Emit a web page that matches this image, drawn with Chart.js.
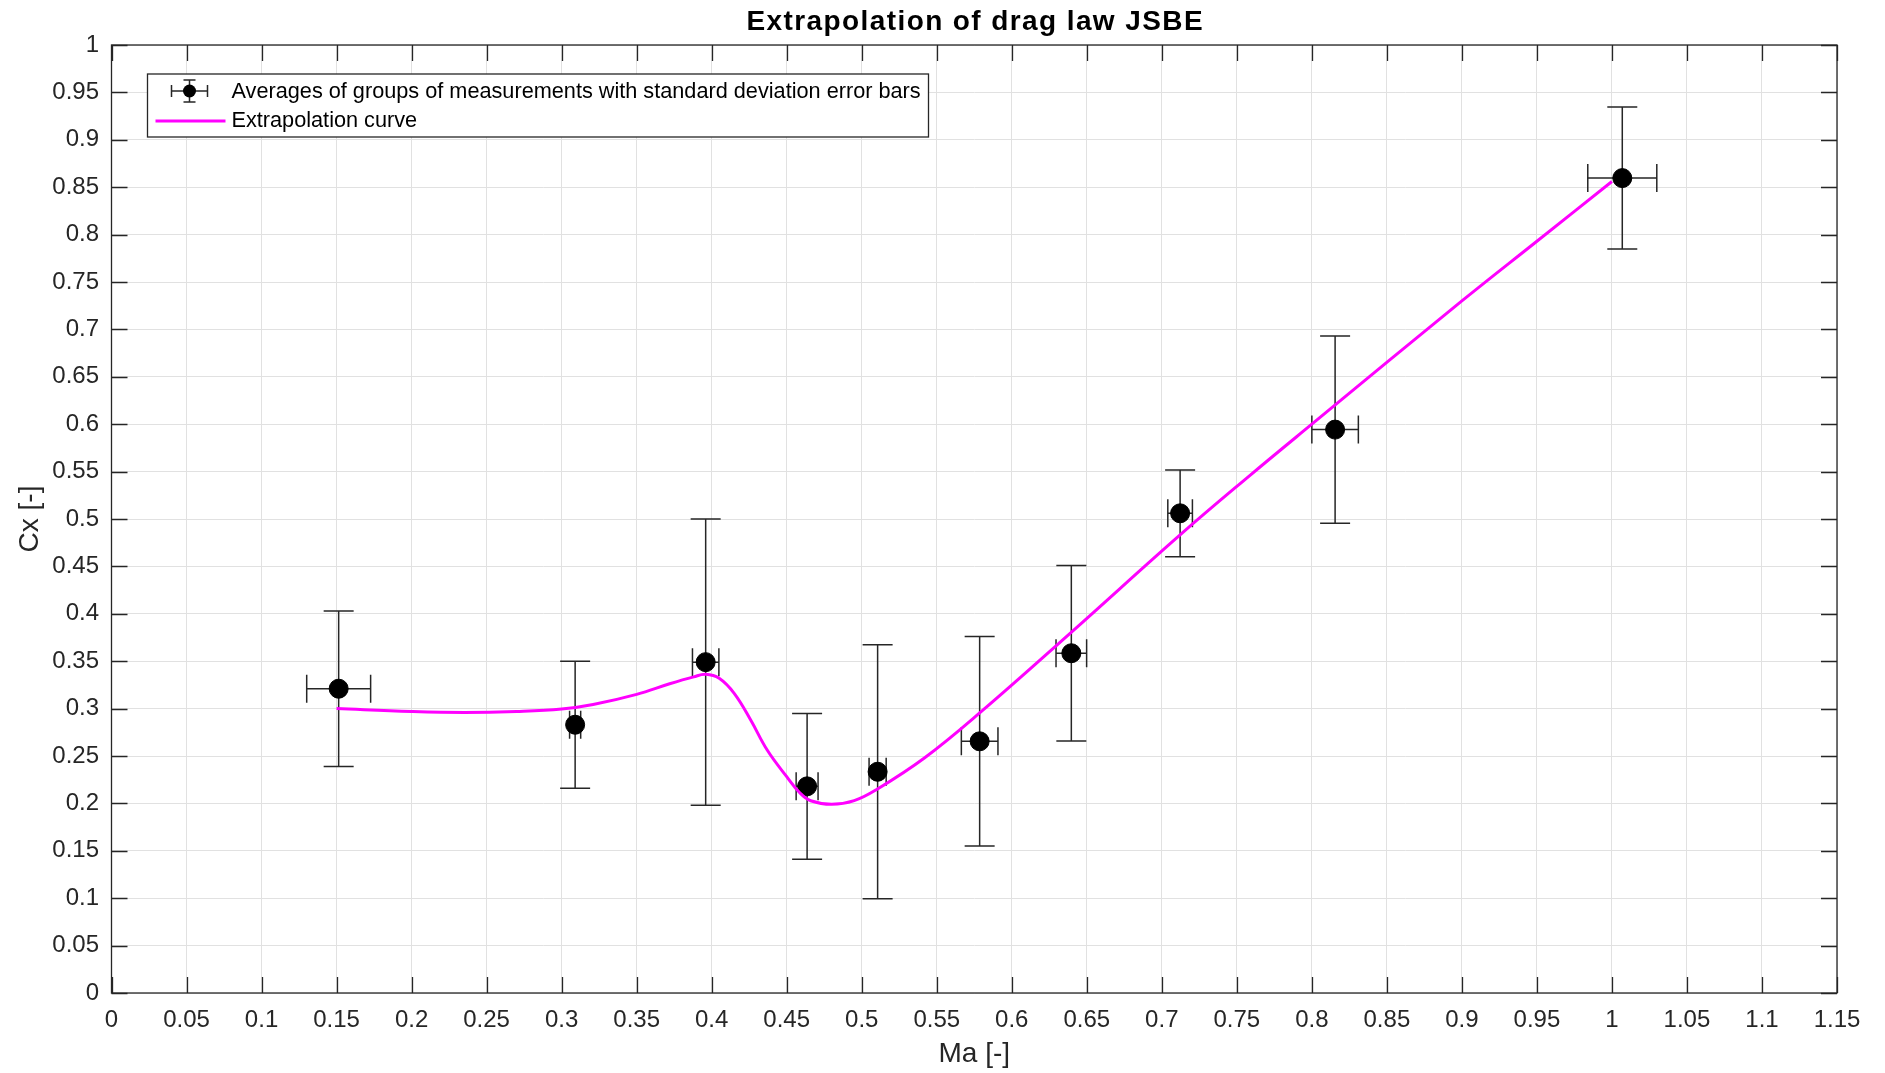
<!DOCTYPE html>
<html>
<head>
<meta charset="utf-8">
<title>Extrapolation of drag law JSBE</title>
<script src="https://cdn.jsdelivr.net/npm/chart.js@4.4.0/dist/chart.umd.min.js"></script>
<style>
  html, body { margin: 0; padding: 0; background: #fff; }
</style>
</head>
<body>
<canvas id="dragChart" width="1885" height="1073"></canvas>
<script>
// group averages of the measurements (Mach number, drag coefficient)
const groupMa = [0.1514, 0.309, 0.396, 0.4636, 0.5106, 0.5786, 0.6397, 0.7122, 0.8155, 1.0069];
const groupCx = [0.321, 0.283, 0.349, 0.218, 0.2334, 0.2655, 0.3584, 0.506, 0.5943, 0.8596];
// standard deviations of each group
const sdMa = [0.0213, 0.0037, 0.0088, 0.0073, 0.0057, 0.0122, 0.0102, 0.0082, 0.0155, 0.023];
const sdCx = [0.082, 0.067, 0.151, 0.0768, 0.134, 0.1105, 0.0925, 0.0458, 0.0988, 0.0749];

// extrapolated drag law
const curveMa = [0.15, 0.2, 0.235, 0.27, 0.3, 0.321, 0.35, 0.372, 0.388, 0.396, 0.405, 0.415,
                 0.426, 0.437, 0.45, 0.459, 0.466, 0.48, 0.495, 0.51, 0.542, 0.579, 0.64,
                 0.712, 0.758, 0.8, 0.9, 0.95, 1.0];
const curveCx = [0.300, 0.297, 0.296, 0.297, 0.2995, 0.3043, 0.315, 0.3262, 0.3335, 0.3362, 0.332, 0.3161,
                 0.288, 0.2563, 0.2282, 0.2107, 0.2028, 0.199, 0.2029, 0.2147, 0.2482, 0.296, 0.381,
                 0.483, 0.545, 0.600, 0.730, 0.793, 0.856];

const xTicks = [0, 0.05, 0.1, 0.15, 0.2, 0.25, 0.3, 0.35, 0.4, 0.45, 0.5, 0.55, 0.6,
                0.65, 0.7, 0.75, 0.8, 0.85, 0.9, 0.95, 1, 1.05, 1.1, 1.15];
const yTicks = [0, 0.05, 0.1, 0.15, 0.2, 0.25, 0.3, 0.35, 0.4, 0.45, 0.5,
                0.55, 0.6, 0.65, 0.7, 0.75, 0.8, 0.85, 0.9, 0.95, 1];

const chartTitle = 'Extrapolation of drag law JSBE';

const font = '"Liberation Sans", Arial, Helvetica, sans-serif';
const axisColor = '#262626';
const gridColor = '#e1e1e1';

// bold title centred over the axes
const titleText = {
  id: 'titleText',
  afterDraw(chart) {
    const { ctx, chartArea: a } = chart;
    ctx.save();
    ctx.fillStyle = '#000';
    ctx.font = 'bold 28px ' + font;
    ctx.letterSpacing = '1.4px';
    ctx.textAlign = 'center';
    ctx.textBaseline = 'middle';
    ctx.fillText(chartTitle, (a.left + a.right) / 2 + 1, a.top - 23);
    ctx.restore();
  }
};

// error bars with end caps, under the markers
const errorBars = {
  id: 'errorBars',
  beforeDatasetsDraw(chart) {
    const { ctx, scales: { x, y } } = chart;
    ctx.save();
    ctx.strokeStyle = axisColor;
    ctx.lineWidth = 1.5;
    ctx.beginPath();
    groupMa.forEach((m, i) => {
      const px = x.getPixelForValue(m);
      const py = y.getPixelForValue(groupCx[i]);
      const top = y.getPixelForValue(groupCx[i] + sdCx[i]);
      const bot = y.getPixelForValue(groupCx[i] - sdCx[i]);
      const lft = x.getPixelForValue(m - sdMa[i]);
      const rgt = x.getPixelForValue(m + sdMa[i]);
      ctx.moveTo(px, top); ctx.lineTo(px, bot);
      ctx.moveTo(px - 15, top); ctx.lineTo(px + 15, top);
      ctx.moveTo(px - 15, bot); ctx.lineTo(px + 15, bot);
      ctx.moveTo(lft, py); ctx.lineTo(rgt, py);
      ctx.moveTo(lft, py - 14); ctx.lineTo(lft, py + 14);
      ctx.moveTo(rgt, py - 14); ctx.lineTo(rgt, py + 14);
    });
    ctx.stroke();
    ctx.restore();
  }
};

// closed axes box with inward tick marks on all four sides
const axesBox = {
  id: 'axesBox',
  afterDatasetsDraw(chart) {
    const { ctx, chartArea: a, scales: { x, y } } = chart;
    const len = 16;
    ctx.save();
    ctx.strokeStyle = axisColor;
    ctx.lineWidth = 1.3;
    ctx.beginPath();
    xTicks.forEach(v => {
      const px = Math.round(x.getPixelForValue(v)) + 0.5;
      ctx.moveTo(px, a.bottom); ctx.lineTo(px, a.bottom - len);
      ctx.moveTo(px, a.top); ctx.lineTo(px, a.top + len);
    });
    yTicks.forEach(v => {
      const py = Math.round(y.getPixelForValue(v)) + 0.5;
      ctx.moveTo(a.left, py); ctx.lineTo(a.left + len, py);
      ctx.moveTo(a.right, py); ctx.lineTo(a.right - len, py);
    });
    ctx.stroke();
    ctx.strokeRect(a.left, a.top, a.right - a.left, a.bottom - a.top);
    ctx.restore();
  }
};

// legend box in the upper left corner of the axes
const legendBox = {
  id: 'legendBox',
  afterDraw(chart) {
    const { ctx, chartArea: a } = chart;
    const bx = a.left + 36, by = a.top + 29, bw = 781, bh = 63;
    ctx.save();
    ctx.fillStyle = '#fff';
    ctx.fillRect(bx, by, bw, bh);
    ctx.strokeStyle = axisColor;
    ctx.lineWidth = 1.3;
    ctx.strokeRect(bx, by, bw, bh);

    // error bar symbol
    const cx = bx + 42, cy = by + 17;
    ctx.lineWidth = 1.5;
    ctx.beginPath();
    ctx.moveTo(cx - 18, cy); ctx.lineTo(cx + 18, cy);
    ctx.moveTo(cx - 18, cy - 6); ctx.lineTo(cx - 18, cy + 6);
    ctx.moveTo(cx + 18, cy - 6); ctx.lineTo(cx + 18, cy + 6);
    ctx.moveTo(cx, cy - 11); ctx.lineTo(cx, cy + 11);
    ctx.moveTo(cx - 6, cy - 11); ctx.lineTo(cx + 6, cy - 11);
    ctx.moveTo(cx - 6, cy + 11); ctx.lineTo(cx + 6, cy + 11);
    ctx.stroke();
    ctx.fillStyle = '#000';
    ctx.beginPath();
    ctx.arc(cx, cy, 6.5, 0, Math.PI * 2);
    ctx.fill();

    // curve symbol
    ctx.strokeStyle = '#ff00ff';
    ctx.lineWidth = 3;
    ctx.beginPath();
    ctx.moveTo(bx + 8, by + 47); ctx.lineTo(bx + 78, by + 47);
    ctx.stroke();

    ctx.fillStyle = '#000';
    ctx.font = '21.7px ' + font;
    ctx.textBaseline = 'middle';
    ctx.fillText(chart.data.datasets[1].label, bx + 84, cy + 1);
    ctx.fillText(chart.data.datasets[0].label, bx + 84, by + 47);
    ctx.restore();
  }
};

new Chart(document.getElementById('dragChart'), {
  type: 'scatter',
  data: {
    datasets: [
      {
        label: 'Extrapolation curve',
        type: 'line',
        data: curveMa.map((m, i) => ({ x: m, y: curveCx[i] })),
        borderColor: '#ff00ff',
        borderWidth: 3,
        pointRadius: 0,
        tension: 0.4,
        fill: false,
        order: 1
      },
      {
        label: 'Averages of groups of measurements with standard deviation error bars',
        data: groupMa.map((m, i) => ({ x: m, y: groupCx[i] })),
        pointRadius: 9.5,
        pointBorderWidth: 1,
        backgroundColor: '#000',
        borderColor: '#000',
        order: 2
      }
    ]
  },
  options: {
    responsive: false,
    animation: false,
    layout: { padding: { left: 0, right: 48, top: 45, bottom: 0 } },
    plugins: {
      legend: { display: false },
      tooltip: { enabled: false },
      title: { display: false }
    },
    scales: {
      x: {
        type: 'linear',
        min: 0,
        max: 1.15,
        afterBuildTicks: s => { s.ticks = xTicks.map(v => ({ value: v })); },
        afterFit: s => { s.height = 80; },
        grid: { color: gridColor, lineWidth: 1, drawTicks: false },
        border: { display: false },
        ticks: {
          color: axisColor,
          padding: 12.5,
          maxRotation: 0,
          autoSkip: false,
          font: { family: font, size: 24 },
          callback: v => String(v)
        },
        title: {
          display: true,
          text: 'Ma [-]',
          color: axisColor,
          font: { family: font, size: 28 },
          padding: { top: 0, bottom: 2 }
        }
      },
      y: {
        type: 'linear',
        min: 0,
        max: 1,
        afterBuildTicks: s => { s.ticks = yTicks.map(v => ({ value: v })); },
        afterFit: s => { s.width = 111.5; },
        grid: { color: gridColor, lineWidth: 1, drawTicks: false },
        border: { display: false },
        ticks: {
          color: axisColor,
          padding: 12.5,
          autoSkip: false,
          font: { family: font, size: 24 },
          callback: v => String(v)
        },
        title: {
          display: true,
          text: 'Cx [-]',
          color: axisColor,
          font: { family: font, size: 28 },
          padding: { top: 13, bottom: 0 }
        }
      }
    }
  },
  plugins: [errorBars, axesBox, legendBox, titleText]
});
</script>
</body>
</html>
